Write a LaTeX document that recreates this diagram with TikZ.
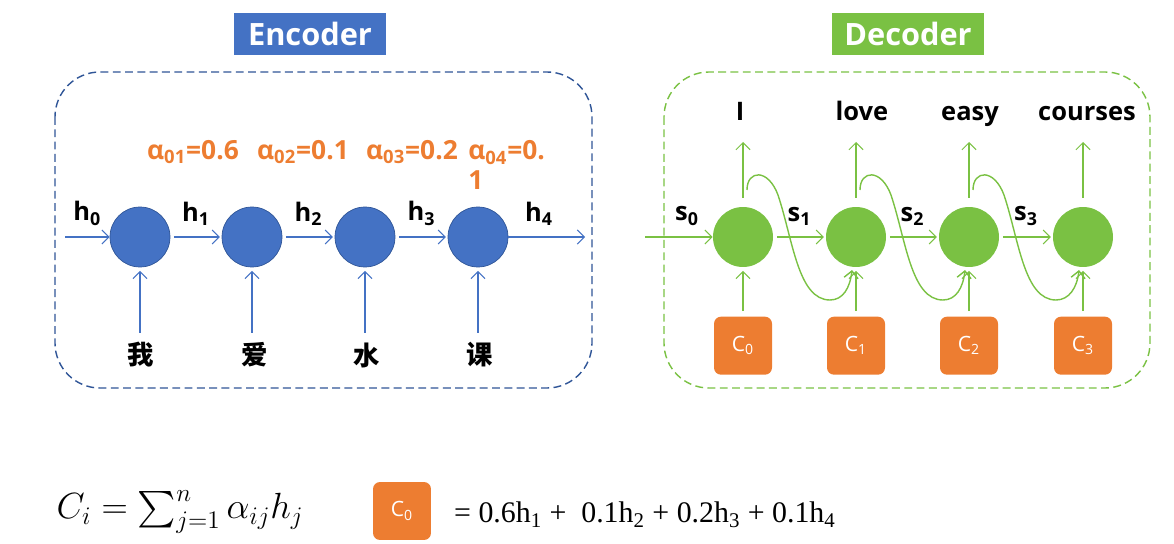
\documentclass[tikz,border=0pt]{standalone}
\usepackage{amsmath}
\usepackage{fontspec}
\setmainfont{Open Sans}
\newfontfamily\cjk{Noto Sans CJK SC}
\newfontfamily\timesfont{Liberation Serif}
\usetikzlibrary{arrows.meta, positioning, calc}

\definecolor{encblue}{HTML}{4472C4}
\definecolor{encdash}{HTML}{2F5597}
\definecolor{decgreen}{HTML}{7AC143}
\definecolor{ctxorange}{HTML}{ED7D31}

\tikzset{
    title/.style={text=white, font=\bfseries\fontsize{17.5}{20}\selectfont, minimum width=3.06cm, minimum height=0.84cm, inner sep=0pt},
    frame/.style={dash pattern=on 4.5pt off 2.5pt, thick, rounded corners=0.9cm},
    enccell/.style={circle, fill=encblue, draw=encdash, thin, minimum size=1.2cm, inner sep=0pt},
    deccell/.style={circle, fill=decgreen, minimum size=1.2cm, inner sep=0pt},
    ctxbox/.style={fill=ctxorange, rounded corners=0.14cm, minimum size=1.16cm, inner sep=0pt, text=white, font=\fontsize{12}{14}\selectfont},
    encarrow/.style={->, encblue, semithick},
    decarrow/.style={->, decgreen, semithick},
    statelabel/.style={text=black, above=3pt},
    weight/.style={text=ctxorange, font=\bfseries\fontsize{15}{17}\selectfont}
}

\begin{document}
\begin{tikzpicture}[
            x=0.02cm,
            y=-0.02cm,
            >={Straight Barb[length=4pt,width=8pt]},
            font=\bfseries\fontsize{14.5}{17}\selectfont
        ]

            \useasboundingbox (0,0) rectangle (1174,544);

            % --- Titles ---
            \node[title, fill=encblue] (enctitle) at (310,34) {Encoder};
            \node[title, fill=decgreen] (dectitle) at (908,34) {Decoder};

            % --- Dashed frames ---
            \draw[frame, encdash] (55,72) rectangle (592,388);
            \draw[frame, decgreen] (664,72) rectangle (1150,388);

            % --- Encoder cells ---
            \node[enccell] (e1) at (140,237) {};
            \node[enccell] (e2) at (252,237) {};
            \node[enccell] (e3) at (365,237) {};
            \node[enccell] (e4) at (478,237) {};

            \coordinate (hin) at (65,237);
            \coordinate (hout) at (585,237);

            \draw[encarrow] (hin) -- (e1) node[midway, statelabel] {h\textsubscript{0}};
            \draw[encarrow, shorten <=2pt, shorten >=1pt] (e1) -- (e2) node[midway, statelabel] {h\textsubscript{1}};
            \draw[encarrow, shorten <=2pt, shorten >=1pt] (e2) -- (e3) node[midway, statelabel] {h\textsubscript{2}};
            \draw[encarrow, shorten <=2pt, shorten >=1pt] (e3) -- (e4) node[midway, statelabel] {h\textsubscript{3}};
            \draw[encarrow] (e4) -- (hout) node[pos=0.4, statelabel] {h\textsubscript{4}};

            % --- Input words ---
            \node[font=\cjk\bfseries\fontsize{15}{17}\selectfont] (x1) at (141,355) {我};
            \node[font=\cjk\bfseries\fontsize{15}{17}\selectfont] (x2) at (255,355) {爱};
            \node[font=\cjk\bfseries\fontsize{15}{17}\selectfont] (x3) at (367,355) {水};
            \node[font=\cjk\bfseries\fontsize{15}{17}\selectfont] (x4) at (480,355) {课};

            \draw[encarrow, shorten <=2pt, shorten >=2pt] (x1.north -| e1) -- (e1);
            \draw[encarrow, shorten <=2pt, shorten >=2pt] (x2.north -| e2) -- (e2);
            \draw[encarrow, shorten <=2pt, shorten >=2pt] (x3.north -| e3) -- (e3);
            \draw[encarrow, shorten <=2pt, shorten >=2pt] (x4.north -| e4) -- (e4);

            % --- Attention weights ---
            \node[weight] (a1) at (193,152) {α\textsubscript{01}=0.6};
            \node[weight] (a2) at (303,152) {α\textsubscript{02}=0.1};
            \node[weight] (a3) at (412,152) {α\textsubscript{03}=0.2};
            \node[weight, anchor=north west, align=left, inner sep=0pt] (a4) at (468,140) {α\textsubscript{04}=0.\\1};

            % --- Decoder cells ---
            \node[deccell] (d1) at (743,237) {};
            \node[deccell] (d2) at (856,237) {};
            \node[deccell] (d3) at (969,237) {};
            \node[deccell] (d4) at (1083,237) {};

            \coordinate (sin) at (645,237);

            \draw[decarrow] (sin) -- (d1) node[pos=0.62, statelabel] {s\textsubscript{0}};
            \draw[decarrow, shorten <=2pt, shorten >=1pt] (d1) -- (d2) node[midway, statelabel] {s\textsubscript{1}};
            \draw[decarrow, shorten <=2pt, shorten >=1pt] (d2) -- (d3) node[midway, statelabel] {s\textsubscript{2}};
            \draw[decarrow, shorten <=2pt, shorten >=1pt] (d3) -- (d4) node[midway, statelabel] {s\textsubscript{3}};

            % --- Context vectors ---
            \node[ctxbox, below=0.98cm of d1] (c0) {C\textsubscript{0}};
            \node[ctxbox, below=0.98cm of d2] (c1) {C\textsubscript{1}};
            \node[ctxbox, below=0.98cm of d3] (c2) {C\textsubscript{2}};
            \node[ctxbox, below=0.98cm of d4] (c3) {C\textsubscript{3}};

            \draw[decarrow, shorten <=3pt, shorten >=2pt] (c0) -- (d1);
            \draw[decarrow, shorten <=3pt, shorten >=2pt] (c1) -- (d2);
            \draw[decarrow, shorten <=3pt, shorten >=2pt] (c2) -- (d3);
            \draw[decarrow, shorten <=3pt, shorten >=2pt] (c3) -- (d4);

            % --- Output words ---
            \node[anchor=base] (y1) at (740,121) {I};
            \node[anchor=base] (y2) at (862,121) {love};
            \node[anchor=base] (y3) at (970,121) {easy};
            \node[anchor=base] (y4) at (1087,121) {courses};

            \coordinate (o1) at (743,142);
            \coordinate (o2) at (856,142);
            \coordinate (o3) at (969,142);
            \coordinate (o4) at (1083,142);

            \draw[decarrow, shorten <=5pt] (d1) -- (o1);
            \draw[decarrow, shorten <=5pt] (d2) -- (o2);
            \draw[decarrow, shorten <=5pt] (d3) -- (o3);
            \draw[decarrow, shorten <=5pt] (d4) -- (o4);

            % --- Feedback of previous output ---
            \foreach \a/\b in {d1/d2, d2/d3, d3/d4} {
                \draw[decarrow, thick] ($(\a)+(4,-47)$) .. controls ($(\a)+(4,-67)$) and ($(\a)+(25,-69)$) .. ($(\a)+(35,-42)$)
                    .. controls ($(\a)+(50,3)$) and ($(\a)+(55,63)$) .. ($(\a)+(87,63)$)
                    .. controls ($(\a)+(100,63)$) and ($(\b)+(-6,51)$) .. ($(\b)+(-4,33)$);
            }

            % --- Formula ---
            \node[font=\mdseries\fontsize{20}{24}\selectfont] (ci) at (180,512) {$C_i = \textstyle\sum_{j=1}^{n}\alpha_{ij}h_j$};
            \node[ctxbox] (cf) at (402,511) {C\textsubscript{0}};
            \node[anchor=west, font=\timesfont\mdseries\fontsize{17}{20}\selectfont] (sum) at (448,515) {= 0.6h\textsubscript{1} +\ \ 0.1h\textsubscript{2} + 0.2h\textsubscript{3} + 0.1h\textsubscript{4}};

        \end{tikzpicture}
\end{document}
